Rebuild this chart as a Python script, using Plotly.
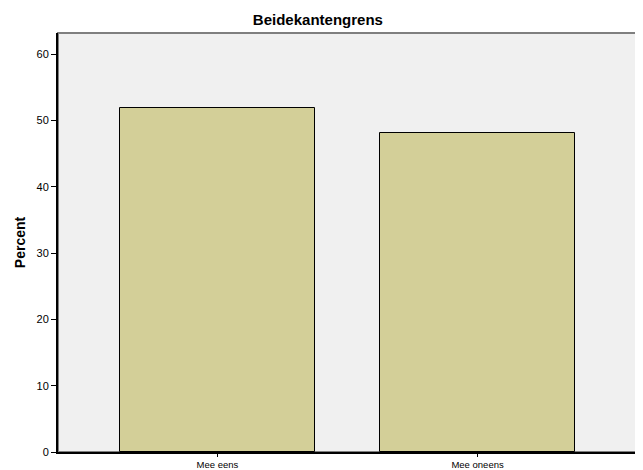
import plotly.graph_objects as go

categories = ["Mee eens", "Mee oneens"]
percent = [51.9, 48.1]
y_ticks = [0, 10, 20, 30, 40, 50, 60]

fig = go.Figure()

fig.add_trace(go.Bar(
    x=categories,
    y=percent,
    width=0.75,
    marker=dict(color="#d3cf98", line=dict(color="#000000", width=1)),
))

# grey frame on top/right, like the SPSS plot box
fig.add_shape(type="rect", xref="paper", yref="paper", x0=0, y0=0, x1=1, y1=1,
              line=dict(color="#7f7f7f", width=2), layer="below")

# page body has an 8px margin, so the figure is a bit smaller than the window
fig.update_layout(
    width=635, height=462,
    title=dict(text="<b>Beidekantengrens</b>", x=0.488, xanchor="center",
               yref="container", y=0.974, yanchor="middle",
               font=dict(size=15, color="#000000")),
    font=dict(family="Liberation Sans, Arial, sans-serif", color="#000000"),
    paper_bgcolor="#ffffff",
    plot_bgcolor="#f0f0f0",
    margin=dict(l=50, r=6, t=25, b=18, autoexpand=False),
    showlegend=False,
    bargap=0,
    xaxis=dict(range=[-0.613, 1.613], showgrid=False, zeroline=False, automargin=False,
               showline=True, linecolor="#000000", linewidth=2,
               ticks="outside", ticklen=3, tickcolor="#000000", tickwidth=1,
               tickfont=dict(size=9.5)),
    yaxis=dict(range=[0, 63.2], tickvals=y_ticks, showgrid=False, zeroline=False, automargin=False,
               showline=True, linecolor="#000000", linewidth=2,
               ticks="outside", ticklen=5, tickcolor="#000000", tickwidth=1,
               tickfont=dict(size=11),
               title=dict(text="<b>Percent</b>", font=dict(size=14), standoff=8)),
)

fig.write_html("out.html")
